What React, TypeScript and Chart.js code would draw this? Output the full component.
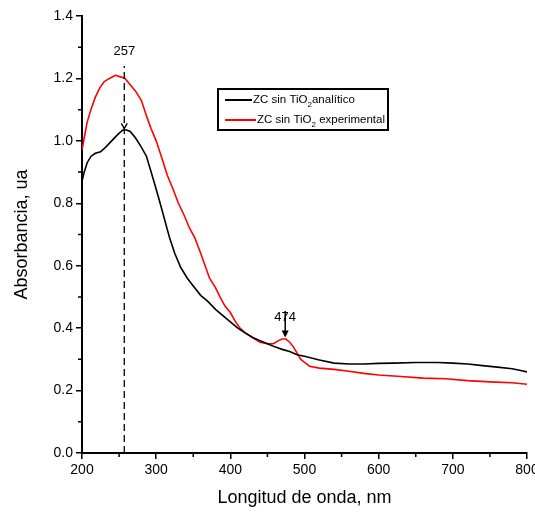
import React, { useEffect, useRef } from "react";
import { Chart, registerables } from "chart.js";

Chart.register(...registerables);

// Wavelength (nm) and absorbance (ua)
const analyticWl = [200, 203, 207, 212, 218, 225, 232, 240, 248, 255, 260, 265, 272, 280, 287, 292, 297, 303, 310, 318, 325, 333, 342, 350, 360, 370, 380, 390, 400, 410, 420, 430, 440, 450, 460, 470, 480, 490, 500, 520, 540, 560, 580, 600, 620, 650, 680, 700, 720, 740, 760, 780, 790, 800];
const analyticAbs = [0.87, 0.9, 0.93, 0.95, 0.96, 0.965, 0.98, 1.0, 1.02, 1.035, 1.035, 1.03, 1.01, 0.98, 0.95, 0.91, 0.87, 0.82, 0.76, 0.69, 0.64, 0.595, 0.56, 0.535, 0.505, 0.485, 0.46, 0.44, 0.42, 0.4, 0.385, 0.37, 0.36, 0.35, 0.34, 0.332, 0.325, 0.315, 0.31, 0.298, 0.288, 0.285, 0.285, 0.287, 0.288, 0.29, 0.29, 0.288, 0.285, 0.28, 0.275, 0.27, 0.265, 0.26];

const expWl = [200, 203, 207, 212, 218, 224, 230, 237, 245, 252, 258, 265, 272, 280, 287, 293, 300, 307, 315, 322, 330, 338, 345, 352, 360, 366, 372, 380, 386, 393, 400, 407, 413, 420, 430, 440, 450, 458, 465, 470, 475, 480, 485, 490, 495, 500, 507, 520, 540, 560, 580, 600, 630, 660, 690, 720, 750, 780, 800];
const expAbs = [0.97, 1.01, 1.06, 1.1, 1.14, 1.17, 1.19, 1.2, 1.21, 1.205, 1.2, 1.18, 1.16, 1.13, 1.08, 1.04, 1.0, 0.95, 0.89, 0.85, 0.8, 0.76, 0.72, 0.69, 0.64, 0.6, 0.56, 0.53, 0.5, 0.47, 0.45, 0.42, 0.4, 0.385, 0.37, 0.355, 0.35, 0.35, 0.36, 0.365, 0.365, 0.355, 0.34, 0.32, 0.3, 0.29, 0.278, 0.272, 0.268, 0.262, 0.255, 0.25, 0.245, 0.24, 0.238, 0.232, 0.228, 0.225, 0.22];

const seriesNames = ["ZC sin TiO₂analítico", "ZC sin TiO₂ experimental"];
const legendParts = [
  ["ZC sin TiO", "2", "analítico"],
  ["ZC sin TiO", "2", " experimental"],
];
const seriesColors = ["#000000", "#ff0000"];
const xTickValues = [200, 300, 400, 500, 600, 700, 800];
const xMinorTicks = [250, 350, 450, 550, 650, 750];
const yTickValues = [0, 0.2, 0.4, 0.6, 0.8, 1.0, 1.2, 1.4];
const yMinorTicks = [0.1, 0.3, 0.5, 0.7, 0.9, 1.1, 1.3];
const peakUV = 257;
const peakUVAbs = 1.04;
const peakVis = 474;
const peakVisAbs = 0.37;

const FONT = "'Liberation Sans', Arial, sans-serif";

const annotations = {
  id: "annotations",
  afterDraw(chart: any) {
    const { ctx, chartArea: ca, scales } = chart;
    const x = scales.x;
    const y = scales.y;
    ctx.save();
    ctx.strokeStyle = "#000";
    ctx.fillStyle = "#000";
    // minor ticks
    ctx.lineWidth = 1.5;
    ctx.beginPath();
    xMinorTicks.forEach((v) => {
      const px = x.getPixelForValue(v);
      ctx.moveTo(px, ca.bottom);
      ctx.lineTo(px, ca.bottom + 4);
    });
    yMinorTicks.forEach((v) => {
      const py = y.getPixelForValue(v);
      ctx.moveTo(ca.left - 4, py);
      ctx.lineTo(ca.left, py);
    });
    ctx.stroke();

    // dashed marker at 257 nm
    const px = x.getPixelForValue(peakUV);
    ctx.lineWidth = 1.3;
    ctx.setLineDash([7, 4]);
    ctx.beginPath();
    ctx.moveTo(px, y.getPixelForValue(0));
    ctx.lineTo(px, y.getPixelForValue(1.24));
    ctx.stroke();
    ctx.setLineDash([]);
    // small arrowhead at black peak
    const pk = y.getPixelForValue(peakUVAbs);
    ctx.beginPath();
    ctx.moveTo(px - 3, pk - 5);
    ctx.lineTo(px, pk);
    ctx.lineTo(px + 3, pk - 5);
    ctx.stroke();

    ctx.font = "13px " + FONT;
    ctx.textAlign = "center";
    ctx.textBaseline = "middle";
    ctx.fillText(String(peakUV), px, y.getPixelForValue(1.287));

    // 474 annotation
    const qx = x.getPixelForValue(peakVis);
    ctx.fillText(String(peakVis), qx, y.getPixelForValue(0.433));
    const top = y.getPixelForValue(0.455);
    const tip = y.getPixelForValue(peakVisAbs);
    ctx.lineWidth = 1.5;
    ctx.beginPath();
    ctx.moveTo(qx, top);
    ctx.lineTo(qx, tip - 4);
    ctx.stroke();
    ctx.beginPath();
    ctx.moveTo(qx - 3.5, tip - 7);
    ctx.lineTo(qx + 3.5, tip - 7);
    ctx.lineTo(qx, tip);
    ctx.closePath();
    ctx.fill();

    // legend box
    const bx = ca.left + 136;
    const by = ca.top + 73;
    const bw = 170;
    const bh = 41;
    ctx.lineWidth = 2;
    ctx.strokeRect(bx, by, bw, bh);
    const rows = [by + 11, by + 31];
    const textX = [bx + 35, bx + 39];
    legendParts.forEach((parts, i) => {
      const ry = rows[i];
      ctx.strokeStyle = seriesColors[i];
      ctx.lineWidth = 2;
      ctx.beginPath();
      ctx.moveTo(bx + 7, ry);
      ctx.lineTo(textX[i] - 1, ry);
      ctx.stroke();
      ctx.fillStyle = "#000";
      ctx.textAlign = "left";
      ctx.textBaseline = "middle";
      let cx = textX[i];
      ctx.font = "11.5px " + FONT;
      ctx.fillText(parts[0], cx, ry);
      cx += ctx.measureText(parts[0]).width;
      ctx.font = "8px " + FONT;
      ctx.fillText(parts[1], cx, ry + 5);
      cx += ctx.measureText(parts[1]).width;
      ctx.font = "11.5px " + FONT;
      ctx.fillText(parts[2], cx, ry);
    });
    ctx.restore();
  },
};

export default function App() {
  const ref = useRef<HTMLCanvasElement | null>(null);
  useEffect(() => {
    document.body.style.margin = "0";
    const canvas = ref.current;
    if (!canvas) return;
    const chart = new Chart(canvas, {
      type: "line",
      data: {
        datasets: [
          {
            label: seriesNames[0],
            data: analyticWl.map((w, i) => ({ x: w, y: analyticAbs[i] })),
            borderColor: seriesColors[0],
            borderWidth: 1.6,
            pointRadius: 0,
            tension: 0,
            fill: false,
          },
          {
            label: seriesNames[1],
            data: expWl.map((w, i) => ({ x: w, y: expAbs[i] })),
            borderColor: seriesColors[1],
            borderWidth: 1.6,
            pointRadius: 0,
            tension: 0,
            fill: false,
          },
        ],
      },
      options: {
        responsive: false,
        animation: false,
        layout: { padding: { left: 0, right: 8, top: 16, bottom: 0 } },
        plugins: { legend: { display: false }, tooltip: { enabled: false } },
        scales: {
          x: {
            type: "linear",
            min: 200,
            max: 800,
            afterBuildTicks: (s: any) => {
              s.ticks = xTickValues.map((v) => ({ value: v }));
            },
            afterFit: (s: any) => {
              s.height = 66;
              s.paddingLeft = 0;
              s.paddingRight = 0;
            },
            border: { display: true, color: "#000", width: 2 },
            grid: { drawOnChartArea: false, drawTicks: true, tickLength: 6, color: "#000", lineWidth: 1.5 },
            ticks: {
              color: "#000",
              font: { family: FONT, size: 14 },
              padding: 3,
              maxRotation: 0,
              callback: (v: any) => String(v),
            },
            title: {
              display: true,
              text: "Longitud de onda, nm",
              color: "#000",
              font: { family: FONT, size: 18 },
              padding: { top: 0, bottom: 10 },
            },
          },
          y: {
            type: "linear",
            min: 0,
            max: 1.4,
            afterBuildTicks: (s: any) => {
              s.ticks = yTickValues.map((v) => ({ value: v }));
            },
            afterFit: (s: any) => {
              s.width = 82;
              s.paddingTop = 0;
              s.paddingBottom = 0;
            },
            border: { display: true, color: "#000", width: 2 },
            grid: { drawOnChartArea: false, drawTicks: true, tickLength: 6, color: "#000", lineWidth: 1.5 },
            ticks: {
              color: "#000",
              font: { family: FONT, size: 14 },
              padding: 3,
              callback: (v: any) => Number(v).toFixed(1),
            },
            title: {
              display: true,
              text: "Absorbancia, ua",
              color: "#000",
              font: { family: FONT, size: 18 },
              padding: { top: 11, bottom: 0 },
            },
          },
        },
      },
      plugins: [annotations],
    });
    return () => chart.destroy();
  }, []);
  return <canvas ref={ref} width={535} height={519} style={{ display: "block" }} />;
}
